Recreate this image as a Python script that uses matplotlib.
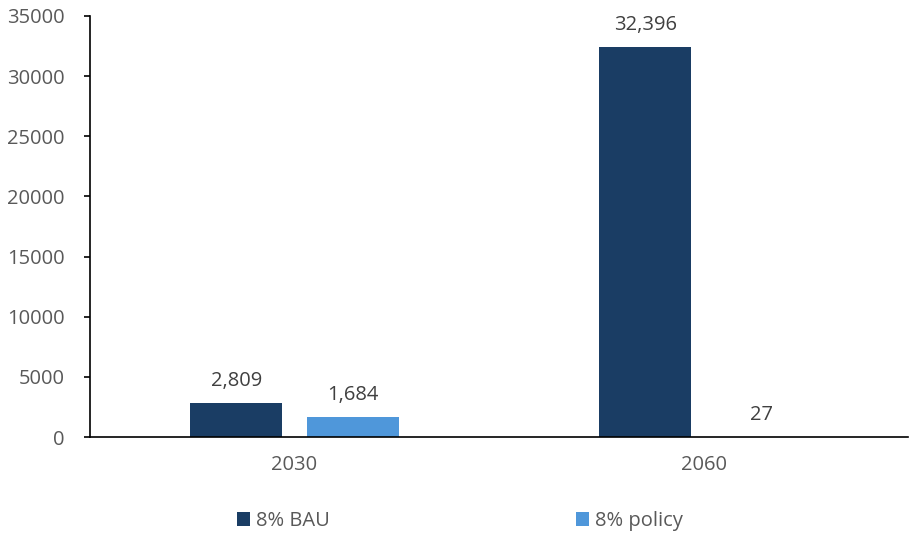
import matplotlib
matplotlib.use('Agg')
import matplotlib.pyplot as plt
import numpy as np

plt.rcParams['font.family'] = ['Open Sans', 'DejaVu Sans']

years = ['2030', '2060']
bau = [2809, 32396]
policy = [1684, 27]
series_names = ['8% BAU', '8% policy']

fig = plt.figure(figsize=(9.09, 5.33), dpi=100)
ax = fig.add_axes([0.099, 0.180, 0.900, 0.790])

x = np.arange(len(years))
w = 0.225
off = 0.142
b1 = ax.bar(x - off, bau, w, color='#1a3d64', label=series_names[0])
b2 = ax.bar(x + off, policy, w, color='#4f97da', label=series_names[1])

for bars in (b1, b2):
    for r in bars:
        ax.text(r.get_x() + r.get_width() / 2, r.get_height() + 1000,
                f'{int(r.get_height()):,}', ha='center', va='bottom',
                fontsize=14.5, color='#404040')

ax.set_xlim(-0.5, 1.5)
ax.set_ylim(0, 35000)
ax.set_yticks(range(0, 35001, 5000))
ax.set_xticks(x)
ax.set_xticklabels(years)
ax.tick_params(axis='y', direction='out', length=4, width=1.2, colors='black',
               labelcolor='#595959', labelsize=14.5, pad=14)
ax.tick_params(axis='x', length=0, labelcolor='#595959', labelsize=14.5, pad=13)
for s in ('top', 'right'):
    ax.spines[s].set_visible(False)
ax.spines['left'].set_linewidth(1.2)
ax.spines['bottom'].set_linewidth(1.2)

fig.legend(handles=[b1, b2], loc='center', bbox_to_anchor=(0.506, 0.022),
           ncol=2, frameon=False, fontsize=14.5, labelcolor='#595959',
           handlelength=0.65, handleheight=0.65, handletextpad=0.3,
           columnspacing=12.2)

fig.savefig('out.png', dpi=100)
